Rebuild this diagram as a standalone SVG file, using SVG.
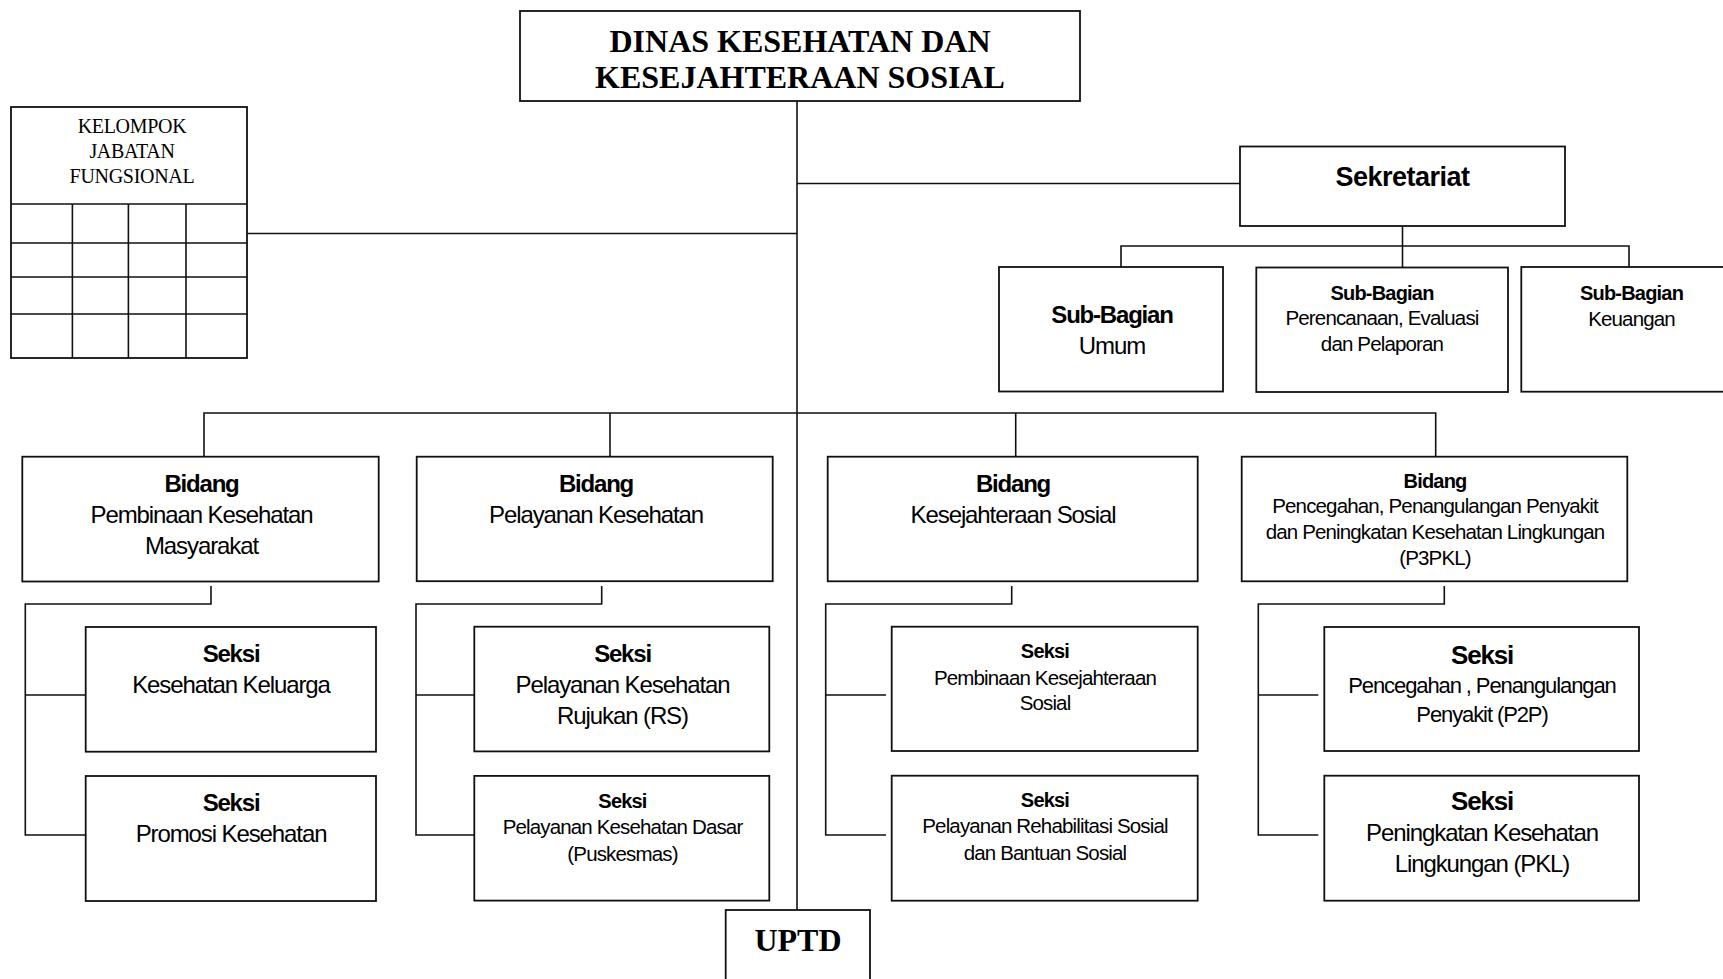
<svg xmlns="http://www.w3.org/2000/svg" width="1723" height="979" viewBox="0 0 1723 979">
<style>
.box{fill:#fff;stroke:#111;stroke-width:1.8}
.ln{fill:none;stroke:#111;stroke-width:1.6}
text{text-anchor:middle;fill:#000}
.t{font-family:"Liberation Serif","Times New Roman",serif;font-weight:bold;font-size:32px}
.kjf{font-family:"Liberation Serif","Times New Roman",serif;font-size:20px;letter-spacing:-0.3px}
.sek{font-family:"Liberation Sans",Arial,sans-serif;font-weight:bold;font-size:27px;letter-spacing:-0.5px}
.b24{font-family:"Liberation Sans",Arial,sans-serif;font-weight:bold;font-size:24px;letter-spacing:-1.2px}
.r24{font-family:"Liberation Sans",Arial,sans-serif;font-size:24px;letter-spacing:-1.1px}
.b26{font-family:"Liberation Sans",Arial,sans-serif;font-weight:bold;font-size:26px;letter-spacing:-1.2px}
.r22{font-family:"Liberation Sans",Arial,sans-serif;font-size:22px;letter-spacing:-1.1px}
.b20{font-family:"Liberation Sans",Arial,sans-serif;font-weight:bold;font-size:20px;letter-spacing:-0.8px}
.r20{font-family:"Liberation Sans",Arial,sans-serif;font-size:20.5px;letter-spacing:-0.85px}
</style>
<rect width="1723" height="979" fill="#fff"/>
<g id="connectors">
<path class="ln" d="M797,101 V910"/>
<path class="ln" d="M797,183.5 H1240"/>
<path class="ln" d="M247,233.5 H797"/>
<path class="ln" d="M1402.5,226 V267"/>
<path class="ln" d="M1121,267 V246 H1629 V267"/>
<path class="ln" d="M204,457 V413 H1435.7 V457"/>
<path class="ln" d="M610,413 V457"/>
<path class="ln" d="M1015.7,413 V457"/>
<path class="ln" d="M211,586 V604 H25.3 V835 H85.7 M25.3,695 H85.7"/>
<path class="ln" d="M601.7,586 V604 H416 V835 H474.3 M416,695 H474.3"/>
<path class="ln" d="M1011.7,586 V604 H825.7 V835 H886 M825.7,695 H886"/>
<path class="ln" d="M1444.3,586 V604 H1258.3 V835 H1318.3 M1258.3,695 H1318.3"/>
</g>
<g id="dinas">
<rect class="box" x="520" y="11" width="560" height="90"/>
<text class="t" x="800" y="51.5">DINAS KESEHATAN DAN</text>
<text class="t" x="800" y="88">KESEJAHTERAAN SOSIAL</text>
</g>
<g id="kjf">
<rect class="box" x="11" y="107" width="236" height="251"/>
<path class="ln" d="M11,204 H247 M11,243 H247 M11,277 H247 M11,314 H247 M72.4,204 V358 M128.4,204 V358 M186,204 V358"/>
<text class="kjf" x="132" y="133">KELOMPOK</text>
<text class="kjf" x="132" y="158">JABATAN</text>
<text class="kjf" x="132" y="183">FUNGSIONAL</text>
</g>
<g id="sekretariat">
<rect class="box" x="1240" y="146.5" width="325" height="79.5"/>
<text class="sek" x="1402.5" y="186">Sekretariat</text>
</g>
<g id="subbag-umum">
<rect class="box" x="999" y="267" width="224" height="124.5"/>
<text class="b24" x="1112" y="323">Sub-Bagian</text>
<text class="r24" x="1112" y="354">Umum</text>
</g>
<g id="subbag-perencanaan">
<rect class="box" x="1256.3" y="267.5" width="251.7" height="124.5"/>
<text class="b20" x="1382" y="300">Sub-Bagian</text>
<text class="r20" x="1382" y="325">Perencanaan, Evaluasi</text>
<text class="r20" x="1382" y="351">dan Pelaporan</text>
</g>
<g id="subbag-keuangan">
<rect class="box" x="1521.3" y="267" width="215" height="124.7"/>
<text class="b20" x="1631.5" y="300">Sub-Bagian</text>
<text class="r20" x="1631.5" y="326">Keuangan</text>
</g>
<g id="bidang-pkm">
<rect class="box" x="22.3" y="456.7" width="356.4" height="124.8"/>
<text class="b24" x="201.5" y="491.7">Bidang</text>
<text class="r24" x="201.5" y="523.3">Pembinaan Kesehatan</text>
<text class="r24" x="201.5" y="554">Masyarakat</text>
</g>
<g id="bidang-yankes">
<rect class="box" x="416.7" y="456.7" width="356" height="124.5"/>
<text class="b24" x="596" y="492">Bidang</text>
<text class="r24" x="596" y="523.2">Pelayanan Kesehatan</text>
</g>
<g id="bidang-kessos">
<rect class="box" x="827.7" y="456.7" width="370" height="124.6"/>
<text class="b24" x="1013" y="491.7">Bidang</text>
<text class="r24" x="1013" y="523.3">Kesejahteraan Sosial</text>
</g>
<g id="bidang-p3pkl">
<rect class="box" x="1241.7" y="456.7" width="385.6" height="124.6"/>
<text class="b20" x="1435" y="488.3">Bidang</text>
<text class="r20" x="1435" y="513.3">Pencegahan, Penangulangan Penyakit</text>
<text class="r20" x="1435" y="539.3">dan Peningkatan Kesehatan Lingkungan</text>
<text class="r20" x="1435" y="565">(P3PKL)</text>
</g>
<g id="seksi-kesga">
<rect class="box" x="85.7" y="627" width="290.3" height="124.7"/>
<text class="b24" x="231" y="661.7">Seksi</text>
<text class="r24" x="231" y="693">Kesehatan Keluarga</text>
</g>
<g id="seksi-promkes">
<rect class="box" x="85.7" y="776" width="290.3" height="125"/>
<text class="b24" x="231" y="810.7">Seksi</text>
<text class="r24" x="231" y="841.7">Promosi Kesehatan</text>
</g>
<g id="seksi-rujukan">
<rect class="box" x="474.3" y="626.7" width="295" height="124.7"/>
<text class="b24" x="622.5" y="661.7">Seksi</text>
<text class="r24" x="622.5" y="693.4">Pelayanan Kesehatan</text>
<text class="r24" x="622.5" y="723.6">Rujukan (RS)</text>
</g>
<g id="seksi-dasar">
<rect class="box" x="474.3" y="775.9" width="295" height="124.7"/>
<text class="b20" x="622.5" y="807.8">Seksi</text>
<text class="r20" x="622.5" y="833.6">Pelayanan Kesehatan Dasar</text>
<text class="r20" x="622.5" y="861">(Puskesmas)</text>
</g>
<g id="seksi-pembinaan-kessos">
<rect class="box" x="891.7" y="626.7" width="306" height="124.3"/>
<text class="b20" x="1045" y="658.3">Seksi</text>
<text class="r20" x="1045" y="685">Pembinaan Kesejahteraan</text>
<text class="r20" x="1045" y="710">Sosial</text>
</g>
<g id="seksi-rehsos">
<rect class="box" x="891.7" y="775.7" width="306" height="125"/>
<text class="b20" x="1045" y="806.7">Seksi</text>
<text class="r20" x="1045" y="833.3">Pelayanan Rehabilitasi Sosial</text>
<text class="r20" x="1045" y="860">dan Bantuan Sosial</text>
</g>
<g id="seksi-p2p">
<rect class="box" x="1324.3" y="627" width="314.7" height="124"/>
<text class="b26" x="1482" y="664">Seksi</text>
<text class="r22" x="1482" y="693.3">Pencegahan , Penangulangan</text>
<text class="r22" x="1482" y="721.7">Penyakit (P2P)</text>
</g>
<g id="seksi-pkl">
<rect class="box" x="1324.3" y="775.7" width="314.7" height="125"/>
<text class="b26" x="1482" y="810">Seksi</text>
<text class="r24" x="1482" y="841">Peningkatan Kesehatan</text>
<text class="r24" x="1482" y="871.7">Lingkungan (PKL)</text>
</g>
<g id="uptd">
<rect class="box" x="725.7" y="910" width="144.3" height="80"/>
<text class="t" x="798" y="950.5">UPTD</text>
</g>
</svg>
